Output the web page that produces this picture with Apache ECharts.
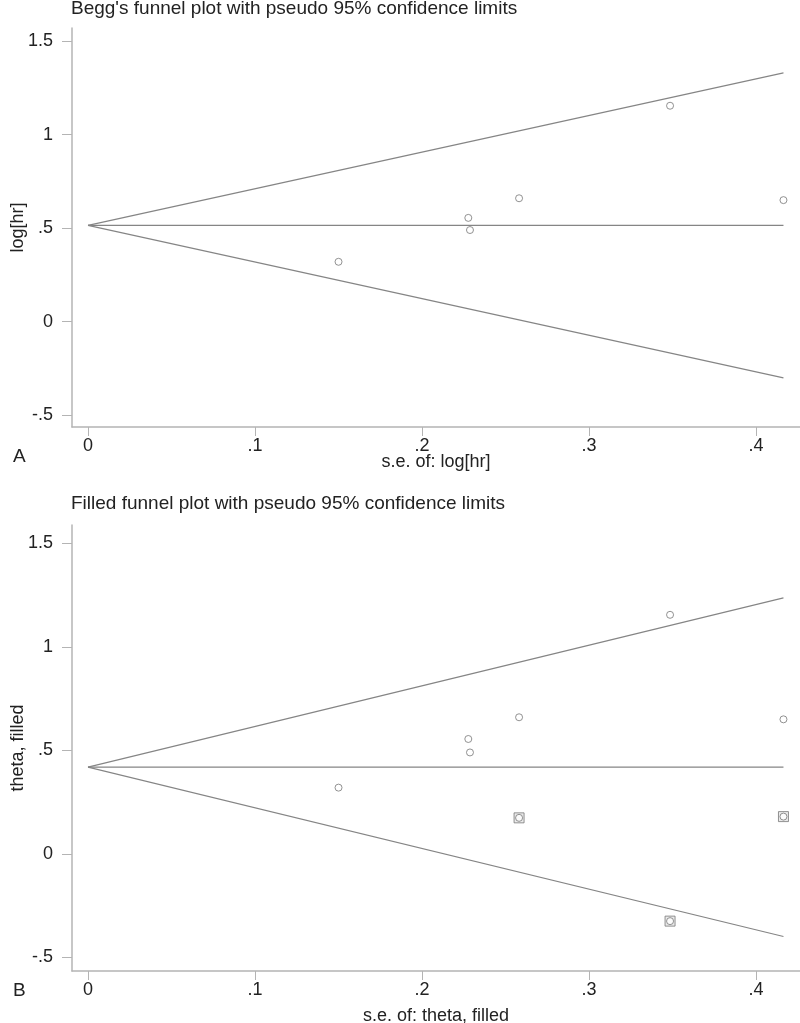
<!DOCTYPE html>
<html>
<head>
<meta charset="utf-8">
<script src="https://cdn.jsdelivr.net/npm/echarts@6/dist/echarts.min.js"></script>
<style>
html,body{margin:0;padding:0;background:#fff;}
#chart{width:800px;height:1023px;}
</style>
</head>
<body>
<div id="chart"></div>
<script>
// ---- data ----
var studySE    = [0.150, 0.2277, 0.2287, 0.2581, 0.3485, 0.4164];
var studyLogHR = [0.320, 0.555, 0.490, 0.660, 1.155, 0.650];
// filled (imputed) studies in panel B
var filledSE    = [0.2581, 0.3485, 0.4164];
var filledTheta = [0.174, -0.325, 0.180];
// pooled estimates and pseudo 95% limits (endpoints)
var pooledA = 0.515, upperEndA = 1.331, lowerEndA = -0.301;
var pooledB = 0.419, upperEndB = 1.237, lowerEndB = -0.399;
var seMax = 0.4164;
var xTickValues = [0, 0.1, 0.2, 0.3, 0.4];
var xTickLabels = ['0', '.1', '.2', '.3', '.4'];
var yTickValues = [-0.5, 0, 0.5, 1, 1.5];
var yTickLabels = ['-.5', '0', '.5', '1', '1.5'];

function pts(xs, ys){ return xs.map(function(x,i){ return [x, ys[i]]; }); }

var FONT = 'Liberation Sans, Arial, sans-serif';
var TXT = '#222';
var AXC = '#b4b4b4';
var LNC = '#858585';

function xAx(idx, name, gap){
  return {
    type:'value', gridIndex: idx, min:-0.00958, max:0.4263,
    name: name, nameLocation:'middle', nameGap: gap, nameMoveOverlap:false,
    nameTextStyle:{color:TXT, fontSize:18, fontFamily:FONT},
    axisLine:{show:true, onZero:false, lineStyle:{color:AXC, width:1.5}},
    axisTick:{show:true, length:9, customValues: xTickValues, lineStyle:{color:AXC, width:1}},
    axisLabel:{customValues: xTickValues, margin:10, color:TXT, fontSize:18, fontFamily:FONT,
      formatter:function(v){ var i = xTickValues.indexOf(Math.round(v*10)/10); return i>=0 ? xTickLabels[i] : ''; }},
    splitLine:{show:false}
  };
}
function yAx(idx, name, mn, mx){
  return {
    type:'value', gridIndex: idx, min:mn, max:mx,
    name: name, nameLocation:'middle', nameGap: 45, nameMoveOverlap:false,
    nameTextStyle:{color:TXT, fontSize:18, fontFamily:FONT},
    axisLine:{show:true, onZero:false, lineStyle:{color:AXC, width:1.5}},
    axisTick:{show:true, length:10, customValues: yTickValues, lineStyle:{color:AXC, width:1}},
    axisLabel:{customValues: yTickValues, margin:19, color:TXT, fontSize:18, fontFamily:FONT,
      formatter:function(v){ var i = yTickValues.indexOf(Math.round(v*10)/10); return i>=0 ? yTickLabels[i] : ''; }},
    splitLine:{show:false}
  };
}
function lineSeries(idx, data){
  return {type:'line', xAxisIndex:idx, yAxisIndex:idx, data:data, symbol:'none',
    lineStyle:{color:LNC, width:1.1}, silent:true, z:2, animation:false};
}
function circles(idx, data){
  return {type:'scatter', xAxisIndex:idx, yAxisIndex:idx, data:data, symbol:'circle', symbolSize:7,
    itemStyle:{color:'#fff', borderColor:'#777', borderWidth:1}, z:5, animation:false};
}

var TS = {color:TXT, fontSize:19, fontWeight:'normal', fontFamily:FONT};
var option = {
  backgroundColor:'#fff',
  animation:false,
  title:[
    {text:"Begg's funnel plot with pseudo 95% confidence limits", left:71, top:-1, padding:[0,0,0,0], textStyle:TS},
    {text:"Filled funnel plot with pseudo 95% confidence limits", left:71, top:494, padding:[0,0,0,0], textStyle:TS},
    {text:"A", left:13, top:447, padding:[0,0,0,0], textStyle:TS},
    {text:"B", left:13, top:981, padding:[0,0,0,0], textStyle:TS}
  ],
  grid:[
    {left:72, top:28, width:728, height:399, outerBoundsMode:'none', containLabel:false},
    {left:72, top:525, width:728, height:446, outerBoundsMode:'none', containLabel:false}
  ],
  xAxis:[ xAx(0, 's.e. of: log[hr]', 26), xAx(1, 's.e. of: theta, filled', 36) ],
  yAxis:[ yAx(0, 'log[hr]', -0.564, 1.571), yAx(1, 'theta, filled', -0.566, 1.589) ],
  series:[
    lineSeries(0, [[0, pooledA],[seMax, upperEndA]]),
    lineSeries(0, [[0, pooledA],[seMax, lowerEndA]]),
    lineSeries(0, [[0, pooledA],[seMax, pooledA]]),
    circles(0, pts(studySE, studyLogHR)),
    lineSeries(1, [[0, pooledB],[seMax, upperEndB]]),
    lineSeries(1, [[0, pooledB],[seMax, lowerEndB]]),
    lineSeries(1, [[0, pooledB],[seMax, pooledB]]),
    circles(1, pts(studySE, studyLogHR)),
    {type:'scatter', xAxisIndex:1, yAxisIndex:1, data:pts(filledSE, filledTheta), symbol:'rect', symbolSize:10,
      itemStyle:{color:'#e6e6e6', borderColor:'#777', borderWidth:1}, z:5},
    circles(1, pts(filledSE, filledTheta))
  ]
};
var chart = echarts.init(document.getElementById('chart'), null, {renderer:'canvas'});
chart.setOption(option);
</script>
</body>
</html>
